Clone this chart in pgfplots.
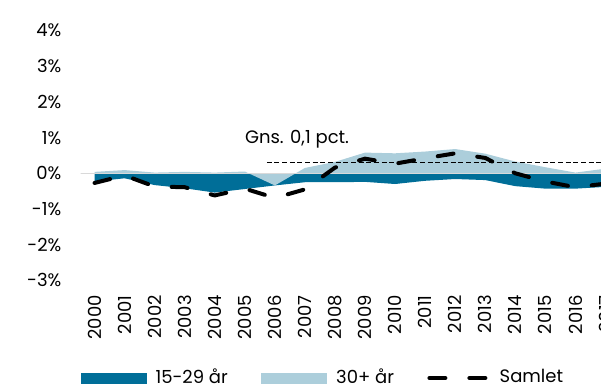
\documentclass[border=0pt]{standalone}
\usepackage{pgfplots}
\pgfplotsset{compat=1.18}
\usepackage{fontspec}
\setmainfont{Poppins}
\definecolor{darkb}{RGB}{0,110,152}
\definecolor{lightb}{RGB}{172,206,219}
\definecolor{zline}{RGB}{217,217,217}
\newcommand{\cf}{\fontsize{13.5}{16}\selectfont}
\pgfplotsset{
  arealeg/.style={legend image code/.code={\fill[##1] (0pt,-5pt) rectangle (49.5pt,3.25pt);}},
  lineleg/.style={legend image code/.code={\draw[##1] (1.5pt,-0.75pt) -- (46pt,-0.75pt);}}
}
\begin{document}
\begin{tikzpicture}
\begin{axis}[
  width=393.77pt, height=187.4pt, scale only axis,
  xmin=-0.466, xmax=17, ymin=-3, ymax=4,
  axis line style={draw=none},
  major tick style={draw=none},
  xtick={0,...,17},
  xticklabels={2000,2001,2002,2003,2004,2005,2006,2007,2008,2009,2010,2011,2012,2013,2014,2015,2016,2017},
  ytick={-3,-2,-1,0,1,2,3,4},
  yticklabels={-3\%,-2\%,-1\%,0\%,1\%,2\%,3\%,4\%},
  ticklabel style={font=\cf, inner sep=0pt},
  xticklabel style={rotate=90, anchor=east},
  xticklabel shift=11pt,
  yticklabel shift=14.2pt,
  legend columns=3,
  legend style={at={(0,-0.387)}, anchor=west, draw=none, fill=none, inner sep=0pt, outer sep=0pt, font=\cf,
    nodes={inner sep=0pt},
    /tikz/every odd column/.append style={column sep=6.75pt},
    /tikz/every even column/.append style={column sep=25pt}},
]
\addplot[fill=darkb, draw=none, arealeg] coordinates {
(0,-0.23) (1,-0.14) (2,-0.33) (3,-0.42) (4,-0.54) (5,-0.44) (6,-0.34) (7,-0.25) (8,-0.25) (9,-0.24)
(10,-0.30) (11,-0.21) (12,-0.16) (13,-0.19) (14,-0.36) (15,-0.43) (16,-0.43) (17,-0.38) (18,-0.30)} \closedcycle;
\addlegendentry{15-29 år}
\addplot[fill=lightb, draw=none, arealeg] coordinates {
(0,0.04) (1,0.09) (2,0.02) (3,0.04) (4,0.02) (5,0.05) (6,-0.34) (7,0.15) (8,0.32) (9,0.58)
(10,0.56) (11,0.61) (12,0.68) (13,0.55) (14,0.33) (15,0.17) (16,0.02) (17,0.13) (18,0.20)} \closedcycle;
\addlegendentry{30+ år}
\addplot[zline, line width=1pt, forget plot] coordinates {(-0.5,0) (18,0)};
\addplot[black, line width=0.75pt, dash pattern=on 3.75pt off 2pt, forget plot] coordinates {(5.73,0.3) (18,0.3)};
\addplot[black, line width=3pt, line cap=round, dash pattern=on 12pt off 18pt, lineleg] coordinates {
(0,-0.27) (1,-0.06) (2,-0.37) (3,-0.39) (4,-0.62) (5,-0.43) (6,-0.69) (7,-0.45) (8,0.16) (9,0.41)
(10,0.27) (11,0.42) (12,0.56) (13,0.43) (14,0.00) (15,-0.23) (16,-0.39) (17,-0.29) (18,-0.25)};
\addlegendentry{Samlet}
\node[anchor=west, font=\cf, inner sep=0pt] at (axis cs:5.0,0.96) {Gns. 0,1 pct.};
\end{axis}
\pgfresetboundingbox
\path[use as bounding box] (-60.4pt,-82.2pt) rectangle (390.4pt,210.3pt);
\end{tikzpicture}
\end{document}
